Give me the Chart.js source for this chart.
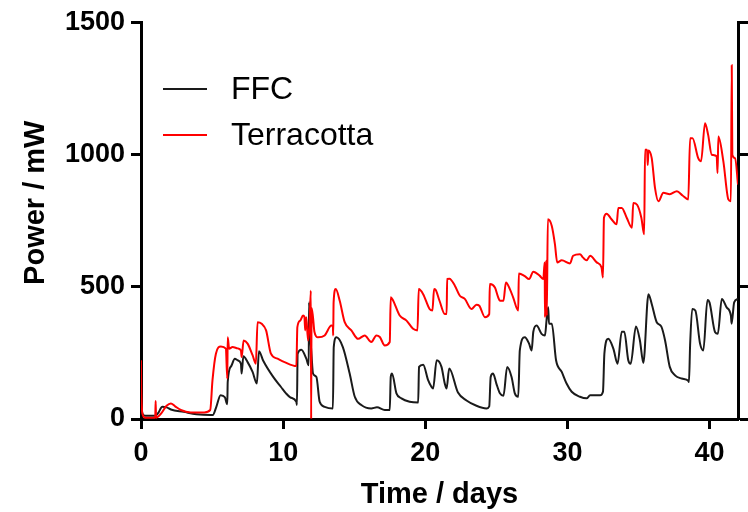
<!DOCTYPE html>
<html>
<head>
<meta charset="utf-8">
<script src="https://cdn.jsdelivr.net/npm/chart.js@4/dist/chart.umd.min.js"></script>
<style>
  html, body { margin: 0; padding: 0; background: #ffffff; }
  #wrap { width: 748px; height: 512px; }
</style>
</head>
<body>
<div id="wrap"><canvas id="c" width="748" height="512"></canvas></div>
<script>
// ---------- data ----------
const seriesNames = ["FFC", "Terracotta"];
const xAxisTitle = "Time / days";
const yAxisTitle = "Power / mW";
const xTickValues = [0, 10, 20, 30, 40];
const yTickValues = [0, 500, 1000, 1500];

const ffcDays = [
  0, 0.1, 0.3, 1.0, 1.2, 1.5, 1.8, 2.1, 3.0, 3.9, 4.9, 5.05, 5.3, 5.6, 5.9, 6.07,
  6.1, 6.35, 6.6, 6.8, 7.03, 7.08, 7.2, 7.5, 7.85, 8.15, 8.3, 8.6, 9.3, 9.85, 10.2,
  10.5, 10.93, 10.97, 11.02, 11.28, 11.63, 11.8, 11.82, 11.9, 12.0, 12.1, 12.34,
  12.57, 12.92, 13.5, 13.56, 13.75, 14.2, 14.68, 15.04, 15.5, 16.2, 16.6, 17.15,
  17.5, 17.57, 17.66, 17.97, 18.32, 18.9, 19.5, 19.56, 19.85, 20.2, 20.44, 20.55,
  20.8, 21.14, 21.37, 21.5, 21.68, 22.3, 22.9, 23.6, 24.3, 24.5, 24.6, 24.77, 25.0,
  25.25, 25.5, 25.76, 26.07, 26.3, 26.54, 26.65, 27.0, 27.3, 27.48, 27.6, 27.83,
  28.18, 28.42, 28.54, 28.65, 28.7, 28.9, 29.2, 29.6, 29.94, 30.3, 30.88, 31.35,
  31.6, 32.3, 32.5, 32.6, 32.87, 33.23, 33.53, 33.82, 34.0, 34.28, 34.45, 34.82,
  35.1, 35.34, 35.7, 35.93, 36.28, 36.6, 36.87, 37.2, 37.57, 38.04, 38.5, 38.55,
  38.63, 38.78, 39.0, 39.33, 39.56, 39.85, 40.0, 40.39, 40.58, 40.86, 41.2, 41.5,
  41.55, 41.73, 42.0
];
const ffcPower = [
  60, 20, 12, 12, 22, 46, 44, 36, 27, 18, 15, 15, 46, 90, 82, 56,
  140, 200, 228, 222, 209, 172, 237, 215, 178, 134, 256, 220, 159, 121, 97,
  82, 65, 53, 247, 262, 228, 203, 441, 330, 240, 172, 159,
  65, 46, 40, 272, 309, 272, 172, 84, 53, 40, 44, 34,
  34, 159, 172, 97, 78, 65, 62, 197, 205, 147, 121, 115,
  222, 197, 134, 115, 191, 100, 70, 50, 40, 48, 159, 172, 134,
  97, 88, 197, 159, 97, 84, 259, 309, 285, 259, 330, 353,
  322, 316, 379, 422, 360, 360, 222, 178, 134, 103, 84, 78,
  90, 90, 103, 247, 303, 266, 209, 330, 330, 222, 209, 350,
  297, 212, 472, 435, 366, 350, 297, 197, 165, 153, 145, 140,
  278, 416, 410, 285, 259, 450, 440, 328, 322, 454, 422, 391,
  360, 441, 454
];

const terraDays = [
  0, 0.02, 0.1, 0.3, 1.0, 1.03, 1.06, 1.4, 1.8, 2.1, 2.4, 2.8, 3.5, 4.45, 4.87,
  5.03, 5.27, 5.62, 5.97, 6.07, 6.1, 6.2, 6.44, 6.8, 7.03, 7.08, 7.22, 7.5, 7.85,
  8.08, 8.2, 8.49, 8.8, 9.14, 9.6, 10.1, 10.93, 11.0, 11.2, 11.4, 11.5, 11.55,
  11.63, 11.75, 11.85, 11.95, 11.97, 12.0, 12.1, 12.2, 12.45, 12.92, 13.39, 13.5,
  13.52, 13.55, 13.7, 13.98, 14.33, 14.8, 15.27, 15.74, 16.2, 16.56, 16.8, 17.15,
  17.5, 17.57, 17.7, 18.2, 18.68, 19.14, 19.45, 19.54, 19.85, 20.3, 20.5, 20.62,
  20.7, 21.0, 21.37, 21.5, 21.54, 21.7, 22.08, 22.43, 22.78, 23.25, 23.6, 23.8,
  24.2, 24.5, 24.54, 24.9, 25.13, 25.25, 25.5, 25.67, 25.95, 26.18, 26.54, 26.58,
  27.0, 27.3, 27.6, 28.06, 28.3, 28.4, 28.42, 28.5, 28.55, 28.62, 28.9, 29.12,
  29.28, 29.6, 30.18, 30.4, 30.88, 31.1, 31.35, 31.6, 32.06, 32.4, 32.5, 32.57,
  32.76, 33.1, 33.46, 33.58, 33.82, 34.17, 34.54, 34.63, 34.9, 35.2, 35.4, 35.46,
  35.6, 35.65, 35.7, 35.93, 36.16, 36.4, 36.75, 37.2, 37.7, 38.1, 38.5, 38.63,
  38.8, 39.2, 39.4, 39.68, 39.9, 40.15, 40.5, 40.56, 40.62, 40.97, 41.32, 41.5,
  41.56, 41.6, 41.8, 42.0
];
const terraPower = [
  222, 120, 20, 5, 5, 68, 5, 20, 50, 59, 48, 34, 25, 25, 34,
  147, 247, 274, 266, 153, 309, 266, 272, 267, 259, 234, 297, 285, 241,
  209, 366, 360, 335, 247, 228, 215, 200, 347, 372, 391, 385, 335,
  385, 297, 350, 485, 0, 420, 385, 330, 309, 316, 353, 350,
  316, 441, 491, 447, 366, 335, 303, 316, 291, 316, 310, 278,
  291, 460, 452, 391, 372, 341, 335, 491, 472, 416, 410, 491,
  490, 447, 397, 397, 529, 530, 504, 466, 454, 416, 432, 428,
  385, 397, 510, 497, 460, 447, 447, 516, 491, 460, 410, 550,
  540, 529, 557, 541, 529, 592, 385, 598, 390, 755, 730, 661,
  592, 600, 588, 617, 623, 610, 600, 617, 592, 573, 535, 761,
  776, 755, 736, 798, 798, 761, 723, 817, 810, 761, 698, 1018,
  1018, 960, 1015, 986, 874, 823, 855, 850, 861, 845, 830, 1061,
  1061, 986, 974, 1118, 1074, 999, 993, 930, 1068, 974, 830, 823,
  1337, 999, 986, 886
];

// ---------- build chart ----------
function toPoints(xs, ys) { return xs.map((x, i) => ({ x: x, y: ys[i] })); }

const FONT = "'Liberation Sans', Arial, Helvetica, sans-serif";

const decorPlugin = {
  id: 'decor',
  afterDraw(chart) {
    const ctx = chart.ctx;
    const area = chart.chartArea;
    ctx.save();
    // legend inside the plot area
    const rows = [89, 135];
    chart.data.datasets.forEach((ds, i) => {
      const y = rows[i];
      ctx.strokeStyle = ds.borderColor;
      ctx.lineWidth = 2;
      ctx.beginPath();
      ctx.moveTo(area.left + 22, y);
      ctx.lineTo(area.left + 66, y);
      ctx.stroke();
      ctx.fillStyle = '#000';
      ctx.font = "32px " + FONT;
      ctx.textBaseline = 'middle';
      ctx.textAlign = 'left';
      ctx.fillText(ds.label, area.left + 90, y + 1);
    });
    // y axis title
    ctx.translate(36, area.top + (area.bottom - area.top) * 0.455);
    ctx.rotate(-Math.PI / 2);
    ctx.font = "bold 29px " + FONT;
    ctx.textAlign = 'center';
    ctx.textBaseline = 'middle';
    ctx.fillStyle = '#000';
    ctx.fillText(yAxisTitle, 0, 0);
    ctx.restore();
  }
};

const axisCommon = {
  grid: { display: true, drawOnChartArea: false, drawTicks: true, tickLength: 10, tickWidth: 3, color: '#000' },
  border: { display: true, color: '#000', width: 3 }
};
const tickFont = { family: FONT, size: 27, weight: 'bold' };
const plainNumber = v => String(v);

new Chart(document.getElementById('c'), {
  type: 'line',
  data: {
    datasets: [
      {
        label: seriesNames[0],
        data: toPoints(ffcDays, ffcPower),
        borderColor: '#1a1a1a',
        borderWidth: 2,
        pointRadius: 0,
        cubicInterpolationMode: 'monotone',
        order: 2
      },
      {
        label: seriesNames[1],
        data: toPoints(terraDays, terraPower),
        borderColor: '#ff0000',
        borderWidth: 2,
        pointRadius: 0,
        cubicInterpolationMode: 'monotone',
        order: 1
      }
    ]
  },
  options: {
    responsive: false,
    animation: false,
    devicePixelRatio: 1,
    layout: { padding: { left: 0, right: 0, top: 20, bottom: 0 } },
    plugins: { legend: { display: false }, tooltip: { enabled: false } },
    scales: {
      x: {
        type: 'linear', min: 0, max: 42, position: 'bottom',
        ...axisCommon,
        afterBuildTicks: s => { s.ticks = xTickValues.map(v => ({ value: v })); },
        afterFit: s => { s.height = 93; },
        ticks: { color: '#000', padding: 8, font: tickFont, callback: plainNumber },
        title: { display: true, text: xAxisTitle, color: '#000', padding: { top: 0, bottom: 0 },
                 font: { family: FONT, size: 29, weight: 'bold' } }
      },
      y: {
        type: 'linear', min: 0, max: 1500, position: 'left',
        ...axisCommon,
        afterBuildTicks: s => { s.ticks = yTickValues.map(v => ({ value: v })); },
        afterFit: s => { s.width = 141; },
        ticks: { color: '#000', padding: 6, font: tickFont, callback: plainNumber },
        title: { display: false }
      },
      y2: {
        type: 'linear', min: 0, max: 1500, position: 'right',
        ...axisCommon,
        afterBuildTicks: s => { s.ticks = yTickValues.map(v => ({ value: v })); },
        afterFit: s => { s.width = 10; },
        ticks: { display: false }
      }
    }
  },
  plugins: [decorPlugin]
});
</script>
</body>
</html>
